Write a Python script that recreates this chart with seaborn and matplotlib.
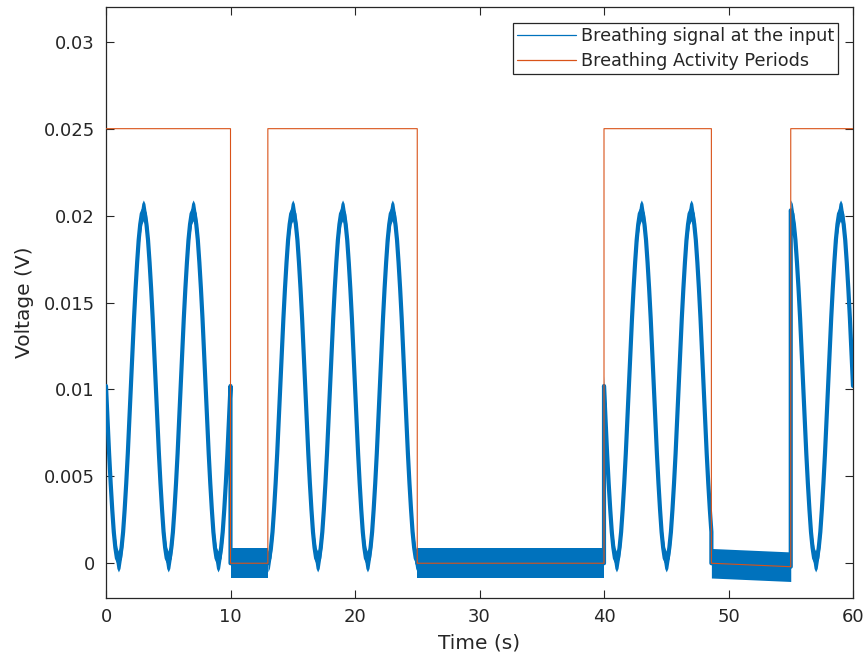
import numpy as np
import pandas as pd
import matplotlib
matplotlib.use("Agg")
import matplotlib.pyplot as plt
import seaborn as sns

# ---------------- data ----------------
# one breath cycle, sampled every 0.125 s, starting at a trough (V)
cycle_step = 0.125
breath_cycle_v = [0.0001, 0.0003, 0.0009, 0.0018, 0.0031, 0.0046, 0.0063, 0.0082,
                  0.0102, 0.0122, 0.0141, 0.0158, 0.0173, 0.0186, 0.0195, 0.0201,
                  0.0203, 0.0201, 0.0195, 0.0186, 0.0173, 0.0158, 0.0141, 0.0122,
                  0.0102, 0.0082, 0.0063, 0.0046, 0.0031, 0.0018, 0.0009, 0.0003]
first_trough_t = 1.0          # s, first trough of the breathing signal

# breathing-activity segments (s)
active_start = [0.0, 13.0, 40.0, 55.0]
active_end = [10.0, 25.0, 48.625, 60.0]
# rest segments (s) and their baseline level at start / end (V)
rest_start = [10.0, 25.0, 48.625]
rest_end = [13.0, 40.0, 55.0]
rest_level_start = [0.0, 0.0, 0.0]
rest_level_end = [0.0, 0.0, -0.0002]

# noise band half-widths (V)
active_noise = 0.0006
rest_noise = 0.00085

# breathing activity periods indicator (orange)
activity_t = [0, 10, 10, 13, 13, 25, 25, 40, 40, 48.625, 48.625, 55, 55, 60]
activity_v = [0.025, 0.025, 0, 0, 0.025, 0.025, 0, 0, 0.025, 0.025, 0, -0.0002, 0.025, 0.025]

x_ticks = [0, 10, 20, 30, 40, 50, 60]
y_ticks = [0, 0.005, 0.01, 0.015, 0.02, 0.025, 0.03]
y_tick_labels = ["0", "0.005", "0.01", "0.015", "0.02", "0.025", "0.03"]

# ---------------- build the signal from the read table ----------------
n_cycle = len(breath_cycle_v)
segments = []
for s, e in zip(active_start, active_end):
    n = int(round((e - s) / cycle_step)) + 1
    ts = [s + i * cycle_step for i in range(n)]
    vs = [breath_cycle_v[int(round((t - first_trough_t) / cycle_step)) % n_cycle] for t in ts]
    segments.append(("active", ts, vs))
for s, e, a, b in zip(rest_start, rest_end, rest_level_start, rest_level_end):
    segments.append(("rest", [s, e], [a, b]))
segments.sort(key=lambda seg: seg[1][0])

sig_t, sig_v = [], []
for kind, ts, vs in segments:
    sig_t += ts
    sig_v += vs
signal_df = pd.DataFrame({"t": sig_t, "v": sig_v})
activity_df = pd.DataFrame({"t": activity_t, "v": activity_v})

# ---------------- style ----------------
sns.set_theme(style="white")
plt.rcParams["font.family"] = ["DejaVu Sans"]
dark = "#262626"
blue = "#0072BD"
orange = "#D95319"

fig = plt.figure(figsize=(8.64, 6.58), dpi=100)
ax = fig.add_axes([106 / 864, 1 - 598 / 658, (853 - 106) / 864, (598 - 7) / 658])

# noise bands
for kind, ts, vs in segments:
    tv = np.array(ts)
    vv = np.array(vs)
    hw = active_noise if kind == "active" else rest_noise
    ax.fill_between(tv, vv - hw, vv + hw, color=blue, linewidth=0, zorder=2)

sns.lineplot(data=signal_df, x="t", y="v", sort=False, estimator=None, ax=ax,
             color=blue, linewidth=3.0, label="Breathing signal at the input", zorder=3)
sns.lineplot(data=activity_df, x="t", y="v", sort=False, estimator=None, ax=ax,
             color=orange, linewidth=0.8, label="Breathing Activity Periods", zorder=4)

ax.set_xlim(0, 60)
ax.set_ylim(-0.002, 0.032)
ax.set_xticks(x_ticks)
ax.set_xticklabels([str(v) for v in x_ticks])
ax.set_yticks(y_ticks)
ax.set_yticklabels(y_tick_labels)
ax.tick_params(axis="both", direction="in", length=5.5, width=0.8, colors=dark,
               labelsize=13, top=True, right=True, bottom=True, left=True)
ax.tick_params(axis="x", pad=7)
ax.tick_params(axis="y", pad=8)
for sp in ax.spines.values():
    sp.set_color(dark)
    sp.set_linewidth(0.9)
    sp.set_visible(True)

ax.set_xlabel("Time (s)", fontsize=14.5, color=dark, labelpad=5.5)
ax.set_ylabel("Voltage (V)", fontsize=14.5, color=dark, labelpad=7)

leg = ax.legend(loc="upper right", bbox_to_anchor=(838 / 864, 1 - 23 / 658),
                bbox_transform=fig.transFigure, borderaxespad=0, fontsize=12.7,
                frameon=True, fancybox=False, framealpha=1, edgecolor=dark,
                handlelength=3.3, handletextpad=0.3, labelspacing=0.42, borderpad=0.22)
leg.get_frame().set_linewidth(0.9)
for ln in leg.get_lines():
    ln.set_linewidth(0.9)

fig.savefig("out.png", dpi=100)
